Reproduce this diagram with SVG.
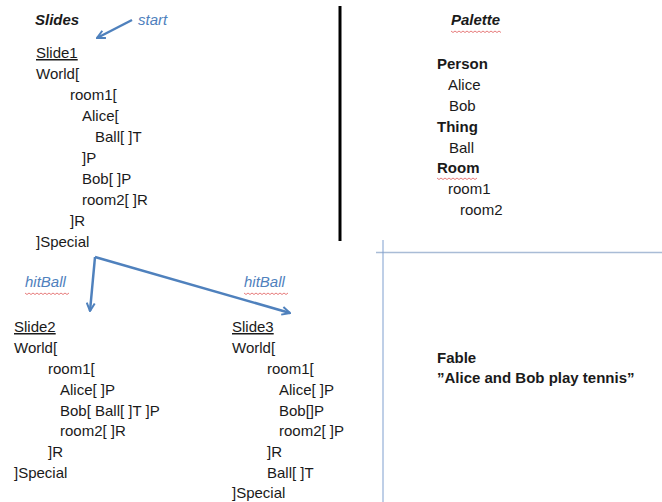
<svg xmlns="http://www.w3.org/2000/svg" width="662" height="502" viewBox="0 0 662 502">
<style>
text{font-family:"Liberation Sans",Arial,sans-serif;font-size:15px;fill:#1a1a1a}
.b{font-weight:bold}
.bi{font-weight:bold;font-style:italic}
.lbl{font-style:italic;fill:#4f81bd}
.u{text-decoration:underline}
.conn{stroke:#4f81bd;stroke-width:2.5;fill:none}
.sq{stroke:#e05a5a;stroke-width:0.8;fill:none}
</style>
<defs>
<marker id="ah" viewBox="0 0 10 10" refX="9" refY="5" markerWidth="4" markerHeight="4" orient="auto" markerUnits="strokeWidth">
<path d="M1,1 L9,5 L1,9" fill="none" stroke="#4f81bd" stroke-width="2" stroke-linejoin="miter"/>
</marker>
</defs>
<rect width="662" height="502" fill="#fff"/>

<g id="dividers">
<line x1="340" y1="6" x2="340" y2="241" stroke="#000" stroke-width="3"/>
<line x1="376" y1="252.5" x2="662" y2="252.5" stroke="#a9bcd6" stroke-width="1.5"/>
<line x1="383" y1="240" x2="383" y2="502" stroke="#7f9fcf" stroke-width="1"/>
</g>

<g id="slides-title"><text class="bi" x="35" y="25">Slides</text></g>
<g id="start"><text class="lbl" x="138" y="25">start</text></g>

<g id="slide1">
<text class="u" x="36" y="58">Slide1</text>
<text x="36" y="79">World[</text>
<text x="70" y="100">room1[</text>
<text x="82" y="121">Alice[</text>
<text x="95" y="142">Ball[ ]T</text>
<text x="82" y="163">]P</text>
<text x="82" y="184">Bob[ ]P</text>
<text x="82" y="205">room2[ ]R</text>
<text x="70" y="226">]R</text>
<text x="36" y="247">]Special</text>
</g>

<g id="hitBall1"><text class="lbl" x="25" y="287">hitBall</text>
<path class="sq" d="M25,293 l2,1.5 l2,-1.5 l2,1.5 l2,-1.5 l2,1.5 l2,-1.5 l2,1.5 l2,-1.5 l2,1.5 l2,-1.5 l2,1.5 l2,-1.5 l2,1.5 l2,-1.5 l2,1.5 l2,-1.5 l2,1.5 l2,-1.5 l2,1.5 l2,-1.5 l2,1.5 l2,-1.5"/></g>
<g id="hitBall2"><text class="lbl" x="244" y="287">hitBall</text>
<path class="sq" d="M244,293 l2,1.5 l2,-1.5 l2,1.5 l2,-1.5 l2,1.5 l2,-1.5 l2,1.5 l2,-1.5 l2,1.5 l2,-1.5 l2,1.5 l2,-1.5 l2,1.5 l2,-1.5 l2,1.5 l2,-1.5 l2,1.5 l2,-1.5 l2,1.5 l2,-1.5 l2,1.5 l2,-1.5"/></g>

<g id="slide2">
<text class="u" x="14" y="332">Slide2</text>
<text x="14" y="353">World[</text>
<text x="48" y="374">room1[</text>
<text x="60" y="395">Alice[ ]P</text>
<text x="60" y="416">Bob[ Ball[ ]T ]P</text>
<text x="60" y="436">room2[ ]R</text>
<text x="48" y="457">]R</text>
<text x="14" y="478">]Special</text>
</g>

<g id="slide3">
<text class="u" x="232" y="332">Slide3</text>
<text x="232" y="353">World[</text>
<text x="267" y="374">room1[</text>
<text x="279" y="395">Alice[ ]P</text>
<text x="279" y="416">Bob[]P</text>
<text x="279" y="436">room2[ ]P</text>
<text x="267" y="457">]R</text>
<text x="267" y="478">Ball[ ]T</text>
<text x="232" y="498">]Special</text>
</g>

<g id="palette">
<text class="bi" x="451" y="25">Palette</text>
<path class="sq" d="M451,31 l2,1.5 l2,-1.5 l2,1.5 l2,-1.5 l2,1.5 l2,-1.5 l2,1.5 l2,-1.5 l2,1.5 l2,-1.5 l2,1.5 l2,-1.5 l2,1.5 l2,-1.5 l2,1.5 l2,-1.5 l2,1.5 l2,-1.5 l2,1.5 l2,-1.5 l2,1.5 l2,-1.5 l2,1.5 l2,-1.5 l2,1.5"/>
<text class="b" x="437" y="69">Person</text>
<text x="448" y="90">Alice</text>
<text x="449" y="111">Bob</text>
<text class="b" x="437" y="132">Thing</text>
<text x="449" y="153">Ball</text>
<text class="b" x="437" y="173">Room</text>
<path class="sq" d="M437,178 l2,1.5 l2,-1.5 l2,1.5 l2,-1.5 l2,1.5 l2,-1.5 l2,1.5 l2,-1.5 l2,1.5 l2,-1.5 l2,1.5 l2,-1.5 l2,1.5 l2,-1.5 l2,1.5 l2,-1.5 l2,1.5 l2,-1.5 l2,1.5 l2,-1.5"/>
<text x="448" y="194">room1</text>
<text x="460" y="215">room2</text>
</g>

<g id="fable">
<text class="b" x="437" y="363">Fable</text>
<text class="b" x="437" y="383">”Alice and Bob play tennis”</text>
</g>

<g id="connectors">
<line class="conn" x1="132" y1="20" x2="97" y2="38" marker-end="url(#ah)"/>
<polyline class="conn" points="95,257 90,311" marker-end="url(#ah)"/>
<line class="conn" x1="95" y1="257" x2="290" y2="313" marker-end="url(#ah)"/>
</g>
</svg>
